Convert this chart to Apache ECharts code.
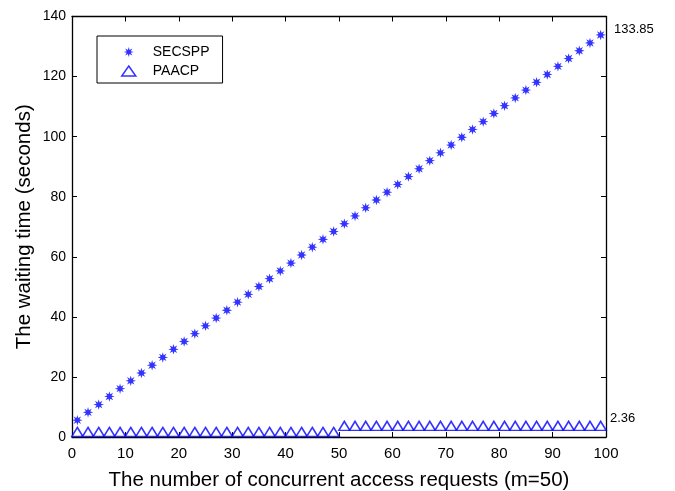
<!DOCTYPE html>
<html>
<head>
<meta charset="utf-8">
<script src="https://cdn.jsdelivr.net/npm/echarts@6/dist/echarts.min.js"></script>
<style>html,body{margin:0;padding:0;background:#fff}#c{width:675px;height:491px}</style>
</head>
<body>
<div id="c"></div>
<script>
const xValues = [1,3,5,7,9,11,13,15,17,19,21,23,25,27,29,31,33,35,37,39,41,43,45,47,49,
                 51,53,55,57,59,61,63,65,67,69,71,73,75,77,79,81,83,85,87,89,91,93,95,97,99];
const secspp = [5.6,8.2,10.8,13.5,16.1,18.7,21.3,23.9,26.5,29.2,31.8,34.4,37.0,39.6,42.2,44.9,47.5,50.1,52.7,55.3,57.9,60.6,63.2,65.8,68.4,
                71.0,73.6,76.3,78.9,81.5,84.1,86.7,89.3,92.0,94.6,97.2,99.8,102.4,105.0,107.7,110.3,112.9,115.5,118.1,120.7,123.4,126.0,128.6,131.2,133.85];
const paacp = [1.7,1.7,1.7,1.7,1.7,1.7,1.7,1.7,1.7,1.7,1.7,1.7,1.7,1.7,1.7,1.7,1.7,1.7,1.7,1.7,1.7,1.7,1.7,1.7,1.7,
               3.7,3.7,3.7,3.7,3.7,3.7,3.7,3.7,3.7,3.7,3.7,3.7,3.7,3.7,3.7,3.7,3.7,3.7,3.7,3.7,3.7,3.7,3.7,3.7,3.7];
const seriesNames = ['SECSPP','PAACP'];
const annotations = [{x:100, y:133.85, text:'133.85'}, {x:100, y:2.36, text:'2.36'}];

// asterisk symbol (8 spokes)
let pts = [];
for (let i = 0; i < 16; i++) {
  const a = i * Math.PI / 8;
  const r = (i % 2 === 0) ? 10 : 4.5;
  pts.push((10 + r * Math.sin(a)).toFixed(2) + ',' + (10 - r * Math.cos(a)).toFixed(2));
}
const starPath = 'path://M' + pts.join('L') + 'Z';

const FONT = 'Liberation Sans, Arial, Helvetica, sans-serif';
const chart = echarts.init(document.getElementById('c'));
function axisCommon() {
  return {
    type: 'value',
    axisLine: {show: true, onZero: false, lineStyle: {color: '#000', width: 1.3}},
    axisTick: {show: true, inside: true, length: 5, lineStyle: {color: '#000', width: 1}},
    splitLine: {show: false}
  };
}
chart.setOption({
  animation: false,
  backgroundColor: '#fff',
  textStyle: {fontFamily: FONT},
  grid: {left: 72, right: 69, top: 16.5, bottom: 54, containLabel: false, outerBoundsMode: 'none'},
  legend: {
    orient: 'vertical', left: 97, top: 36,
    padding: [9, 13, 5, 24],
    itemWidth: 14, itemHeight: 10, itemGap: 5,
    borderColor: '#000', borderWidth: 1,
    textStyle: {fontSize: 14, color: '#000', fontFamily: FONT, padding: [0, 0, 0, 12]},
    data: [
      {name: seriesNames[0], icon: starPath, itemStyle: {color: '#0000ff'}},
      {name: seriesNames[1], icon: 'triangle', itemStyle: {color: '#fff', borderColor: '#0000ff', borderWidth: 1.5}}
    ]
  },
  xAxis: [
    Object.assign(axisCommon(), {
      min: 0, max: 100, interval: 10, position: 'bottom',
      axisLabel: {color: '#000', fontSize: 15, margin: 9, fontFamily: FONT},
      name: 'The number of concurrent access requests (m=50)',
      nameLocation: 'middle', nameGap: 33,
      nameTextStyle: {fontSize: 20.5, color: '#000', fontFamily: FONT}
    }),
    Object.assign(axisCommon(), {
      min: 0, max: 100, interval: 10, position: 'top', axisLabel: {show: false}
    })
  ],
  yAxis: [
    Object.assign(axisCommon(), {
      min: 0, max: 140, interval: 20, position: 'left',
      axisLabel: {color: '#000', fontSize: 14, margin: 6, fontFamily: FONT},
      name: 'The waiting time (seconds)',
      nameLocation: 'middle', nameGap: 37, nameMoveOverlap: false,
      nameTextStyle: {fontSize: 20.5, color: '#000', fontFamily: FONT}
    }),
    Object.assign(axisCommon(), {
      min: 0, max: 140, interval: 20, position: 'right', axisLabel: {show: false}
    })
  ],
  series: [
    {
      name: seriesNames[0], type: 'scatter',
      symbol: starPath, symbolSize: 10.5,
      itemStyle: {color: '#0000ff'},
      data: xValues.map((x, i) => [x, secspp[i]]),
      markPoint: {
        symbol: 'circle', symbolSize: 0,
        label: {show: true, position: 'right', distance: 8, offset: [0, -6], color: '#000', fontSize: 13, fontFamily: FONT,
                formatter: p => p.name},
        data: [{name: annotations[0].text, coord: [annotations[0].x, annotations[0].y]}]
      }
    },
    {
      name: seriesNames[1], type: 'scatter',
      symbol: 'triangle', symbolSize: [11, 9],
      itemStyle: {color: '#fff', borderColor: '#0000ff', borderWidth: 1.5},
      data: xValues.map((x, i) => [x, paacp[i]]),
      markPoint: {
        symbol: 'circle', symbolSize: 0,
        label: {show: true, position: 'right', distance: 4, offset: [0, -11], color: '#000', fontSize: 13, fontFamily: FONT,
                formatter: p => p.name},
        data: [{name: annotations[1].text, coord: [annotations[1].x, annotations[1].y]}]
      }
    }
  ]
});
</script>
</body>
</html>
